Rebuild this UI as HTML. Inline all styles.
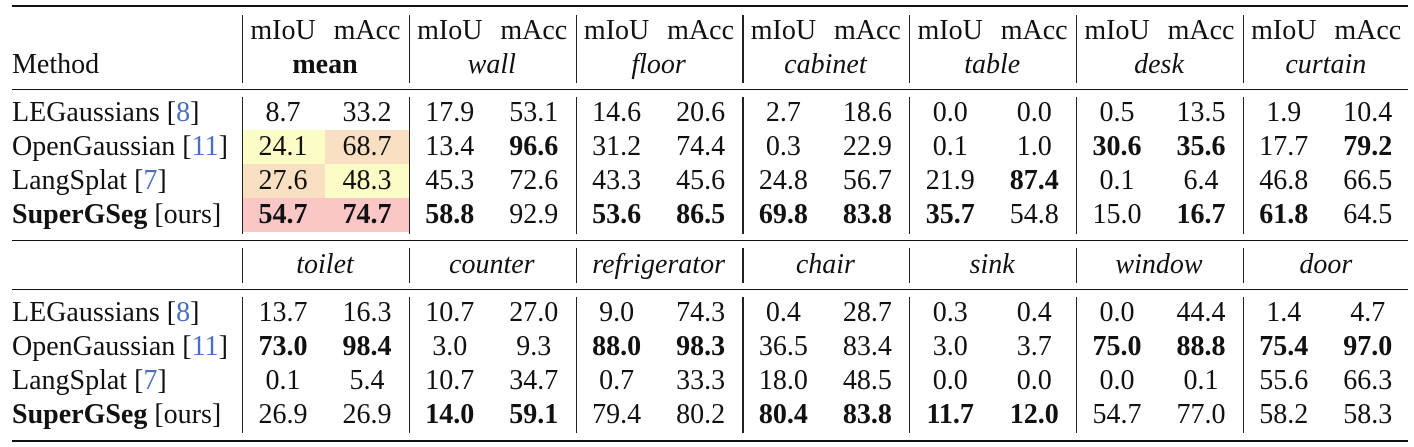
<!DOCTYPE html>
<html><head><meta charset="utf-8">
<style>
body{margin:0;background:#fff;}
#t{position:relative;width:1414px;height:447px;overflow:hidden;font-family:"Liberation Serif",serif;font-size:28px;color:#111;}
.c{position:absolute;white-space:nowrap;line-height:30px;height:30px;transform:translateX(-50%);}
.l{position:absolute;white-space:nowrap;line-height:30px;height:30px;}
.h{position:absolute;background:#111;left:12px;width:1396px;}
.v{position:absolute;width:1.3px;background:#222;}
.bg{position:absolute;}
.ref{color:#4a6fc0;}
</style></head><body>
<div id="t"></div>
<script>
const methods=[["LEGaussians","8",false],["OpenGaussian","11",false],["LangSplat","7",false],["SuperGSeg","ours",true]];
const topCats=["mean","wall","floor","cabinet","table","desk","curtain"];
const botCats=["toilet","counter","refrigerator","chair","sink","window","door"];
const topVals=[
["8.7","33.2","17.9","53.1","14.6","20.6","2.7","18.6","0.0","0.0","0.5","13.5","1.9","10.4"],
["24.1","68.7","13.4","*96.6","31.2","74.4","0.3","22.9","0.1","1.0","*30.6","*35.6","17.7","*79.2"],
["27.6","48.3","45.3","72.6","43.3","45.6","24.8","56.7","21.9","*87.4","0.1","6.4","46.8","66.5"],
["*54.7","*74.7","*58.8","92.9","*53.6","*86.5","*69.8","*83.8","*35.7","54.8","15.0","*16.7","*61.8","64.5"]];
const botVals=[
["13.7","16.3","10.7","27.0","9.0","74.3","0.4","28.7","0.3","0.4","0.0","44.4","1.4","4.7"],
["*73.0","*98.4","3.0","9.3","*88.0","*98.3","36.5","83.4","3.0","3.7","*75.0","*88.8","*75.4","*97.0"],
["0.1","5.4","10.7","34.7","0.7","33.3","18.0","48.5","0.0","0.0","0.0","0.1","55.6","66.3"],
["26.9","26.9","*14.0","*59.1","79.4","80.2","*80.4","*83.8","*11.7","*12.0","54.7","77.0","58.2","58.3"]];
const T=document.getElementById('t');
function add(cls,html,x,y,extra){const d=document.createElement('div');d.className=cls;d.innerHTML=html;d.style.left=x+'px';d.style.top=(y-15)+'px';if(extra)Object.assign(d.style,extra);T.appendChild(d);return d;}
const sep=g=>242+166.8*g;
const hl=[[1,0,'#fcfcc6'],[1,1,'#fae0c3'],[2,0,'#fae0c3'],[2,1,'#fcfcc6'],[3,0,'#fbc6c6'],[3,1,'#fbc6c6']];
hl.forEach(([r,c,col])=>{const d=document.createElement('div');d.className='bg';


d.style.background=col;d.style.left=(242+c*83.4)+'px';d.style.width='83.4px';d.style.top=(130+(r-1)*34)+'px';d.style.height='34px';T.appendChild(d);});
[[5,2],[89,1.3],[240,1.3],[289,1.3],[440,2]].forEach(([y,h])=>{const d=document.createElement('div');d.className='h';


d.style.top=y+'px';d.style.height=h+'px';T.appendChild(d);});
[[15,83],[97,234],[248,283],[297,433]].forEach(([a,b])=>{for(let g=0;g<7;g++){const d=document.createElement('div');d.className='v';


d.style.left=sep(g)+'px';d.style.top=a+'px';d.style.height=(b-a)+'px';T.appendChild(d);}});
let e=add('l','Method',12,65);


for(let g=0;g<7;g++){
 e=add('c','mIoU',sep(g)+41,31);
 
 
 e=add('c','mAcc',sep(g)+125,31);
 
 
 e=add('c',g==0?'<b>mean</b>':'<i>'+topCats[g]+'</i>',sep(g)+83,65);
 
 
 e=add('c','<i>'+botCats[g]+'</i>',sep(g)+83,265);
 
 
}
function rows(vals,y0){
 methods.forEach((m,r)=>{const y=y0+r*34;
  const lab=(m[2]?'<b>'+m[0]+'</b>':m[0])+' ['+(m[2]?m[1]:'<span class="ref">'+m[1]+'</span>')+']';
  let d=add('l',lab,12,y);
  
  
  vals[r].forEach((v,i)=>{const g=Math.floor(i/2);const x=sep(g)+(i%2?125:41);
   const b=v[0]=='*';const txt=b?'<b>'+v.slice(1)+'</b>':v;
   d=add('c',txt,x,y);
   
   });
 });
}
rows(topVals,113);
rows(botVals,313);
</script>
</body></html>
